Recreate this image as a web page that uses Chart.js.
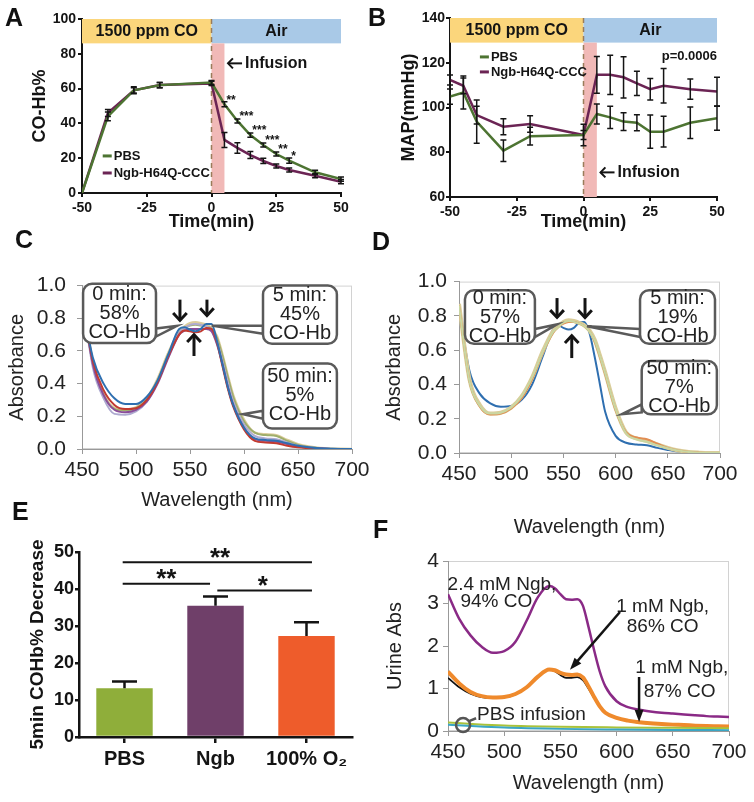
<!DOCTYPE html>
<html>
<head>
<meta charset="utf-8">
<title>CO-Hb figure</title>
<script src="https://cdn.jsdelivr.net/npm/chart.js@4.4.1/dist/chart.umd.min.js"></script>
<style>
  body { margin: 0; background: #fff; }
  #fig { position: relative; width: 754px; height: 802px; overflow: hidden; }
  #fig canvas { position: absolute; }
  .tag { position: absolute; font: bold 25px "Liberation Sans", Arial, sans-serif; line-height: 25px; color: #111; }
</style>
</head>
<body>
<div id="fig">
  <canvas id="chartA" width="377" height="262" style="left:0;top:0"></canvas>
  <canvas id="chartB" width="377" height="262" style="left:377px;top:0"></canvas>
  <canvas id="chartC" width="377" height="268" style="left:0;top:262px"></canvas>
  <canvas id="chartD" width="377" height="280" style="left:377px;top:262px"></canvas>
  <canvas id="chartE" width="377" height="272" style="left:0;top:530px"></canvas>
  <canvas id="chartF" width="377" height="272" style="left:377px;top:530px"></canvas>
  <div class="tag" style="left:5px;top:5px">A</div>
  <div class="tag" style="left:368px;top:5px">B</div>
  <div class="tag" style="left:15px;top:227px">C</div>
  <div class="tag" style="left:372px;top:229px">D</div>
  <div class="tag" style="left:12px;top:499px">E</div>
  <div class="tag" style="left:373px;top:517px">F</div>
</div>
<script>
// ---------- data ----------
// A: CO-Hb% over time
const timeA = [-50, -40, -30, -20, 0, 5, 10, 15, 20, 25, 30, 40, 50];
const pbsA = [0, 44, 59, 62, 63.5, 51, 41.4, 33.3, 27.6, 22.4, 18.6, 11.9, 8];
const pbsErrA = [0, 2.5, 2, 1.5, 1.2, 1.5, 1.2, 1.2, 1.2, 1.2, 1.5, 1.2, 1.2];
const ngbA = [0, 46, 59, 62, 63, 30.5, 25.9, 21.8, 18.4, 15.5, 13.2, 9.9, 6.5];
const ngbErrA = [0, 2, 1.5, 1.5, 1.2, 4.3, 3, 2, 1.5, 1.2, 1.2, 1.2, 1.2];
const starTimeA = [5, 10, 15, 20, 25, 30];
const starTextA = ['**', '***', '***', '***', '**', '*'];

// B: MAP over time
const timeB = [-50, -45, -40, -30, -20, 0, 5, 10, 15, 20, 25, 30, 40, 50];
const pbsB = [104.9, 106.7, 93.7, 80.7, 87.2, 87.7, 97.1, 95.6, 93.7, 93.2, 89.2, 89.2, 93.2, 95.2];
const pbsErrB = [3.4, 7.4, 9.7, 4.8, 4, 4.8, 4.5, 5, 4, 3.6, 7.4, 6.9, 7, 5.4];
const ngbB = [112.3, 109.7, 96.6, 91.4, 92.6, 87.7, 114.6, 114.6, 113.5, 110.8, 108.2, 109.7, 108.2, 107.1];
const ngbErrB = [2.2, 3.5, 4, 3.6, 3.7, 2, 8.2, 8.8, 9.2, 5.4, 4.8, 7.7, 4.5, 6.4];

// C, D, F: spectra
const wl = [450, 460, 470, 480, 490, 500, 510, 520, 530, 540, 545, 550, 555, 560, 565, 570, 575, 580, 585, 590, 600, 610, 620, 630, 640, 650, 660, 670, 680, 690, 700];
const blueC = [0.90, 0.56, 0.40, 0.31, 0.275, 0.275, 0.32, 0.42, 0.58, 0.735, 0.745, 0.73, 0.72, 0.735, 0.765, 0.765, 0.66, 0.52, 0.38, 0.27, 0.13, 0.065, 0.055, 0.05, 0.035, 0.02, 0.01, 0.004, 0.001, 0, 0];
const redC = [0.92, 0.54, 0.36, 0.27, 0.245, 0.25, 0.30, 0.41, 0.57, 0.70, 0.725, 0.72, 0.715, 0.72, 0.74, 0.735, 0.65, 0.51, 0.37, 0.26, 0.12, 0.05, 0.04, 0.035, 0.02, 0.01, 0.005, 0.002, 0, 0, 0];
const purpleC = [0.93, 0.52, 0.33, 0.24, 0.225, 0.24, 0.29, 0.40, 0.56, 0.70, 0.725, 0.735, 0.735, 0.735, 0.735, 0.72, 0.64, 0.52, 0.38, 0.27, 0.13, 0.06, 0.05, 0.045, 0.03, 0.015, 0.008, 0.003, 0, 0, 0];
const lavenderC = [0.94, 0.50, 0.31, 0.215, 0.21, 0.23, 0.29, 0.41, 0.57, 0.71, 0.74, 0.76, 0.765, 0.76, 0.75, 0.73, 0.66, 0.54, 0.41, 0.29, 0.15, 0.08, 0.065, 0.06, 0.04, 0.02, 0.01, 0.004, 0.001, 0, 0];
const oliveC = [0.95, 0.52, 0.33, 0.245, 0.235, 0.25, 0.30, 0.42, 0.58, 0.71, 0.74, 0.755, 0.76, 0.755, 0.75, 0.735, 0.68, 0.57, 0.44, 0.32, 0.17, 0.10, 0.085, 0.08, 0.05, 0.025, 0.012, 0.005, 0.002, 0, 0];
const tanC = [0.96, 0.53, 0.34, 0.25, 0.24, 0.255, 0.31, 0.43, 0.59, 0.72, 0.75, 0.77, 0.775, 0.77, 0.76, 0.74, 0.69, 0.58, 0.45, 0.33, 0.18, 0.10, 0.09, 0.085, 0.055, 0.03, 0.015, 0.006, 0.002, 0.001, 0];

const blueD = [0.85, 0.48, 0.345, 0.29, 0.27, 0.275, 0.31, 0.40, 0.56, 0.72, 0.745, 0.73, 0.72, 0.73, 0.76, 0.765, 0.70, 0.56, 0.40, 0.24, 0.10, 0.06, 0.05, 0.045, 0.03, 0.018, 0.008, 0.003, 0.001, 0, 0];
const orangeD = [0.86, 0.42, 0.27, 0.225, 0.23, 0.26, 0.32, 0.43, 0.58, 0.70, 0.735, 0.755, 0.765, 0.765, 0.755, 0.74, 0.71, 0.65, 0.56, 0.46, 0.25, 0.12, 0.09, 0.08, 0.055, 0.03, 0.015, 0.006, 0.002, 0, 0];
const tanD = [0.87, 0.43, 0.28, 0.23, 0.235, 0.265, 0.33, 0.44, 0.59, 0.71, 0.74, 0.765, 0.775, 0.77, 0.76, 0.745, 0.715, 0.66, 0.57, 0.47, 0.26, 0.12, 0.085, 0.07, 0.05, 0.03, 0.015, 0.006, 0.002, 0, 0];
const greenD = [0.86, 0.42, 0.275, 0.23, 0.235, 0.265, 0.33, 0.44, 0.585, 0.705, 0.735, 0.76, 0.77, 0.765, 0.755, 0.74, 0.71, 0.655, 0.565, 0.465, 0.255, 0.115, 0.08, 0.065, 0.045, 0.028, 0.014, 0.006, 0.002, 0, 0];

const purpleF = [3.22, 2.64, 2.25, 1.98, 1.84, 1.88, 2.1, 2.6, 3.15, 3.41, 3.36, 3.22, 3.1, 3.09, 3.1, 2.95, 2.45, 1.9, 1.4, 1.05, 0.7, 0.56, 0.5, 0.46, 0.43, 0.41, 0.39, 0.37, 0.35, 0.34, 0.33];
const orangeF = [1.4, 1.12, 0.92, 0.82, 0.79, 0.8, 0.87, 1.03, 1.28, 1.45, 1.43, 1.37, 1.33, 1.32, 1.33, 1.26, 1.05, 0.8, 0.58, 0.43, 0.31, 0.245, 0.205, 0.18, 0.165, 0.15, 0.14, 0.125, 0.115, 0.11, 0.105];
const blackF = [1.25, 1.03, 0.88, 0.8, 0.78, 0.79, 0.86, 1.02, 1.27, 1.45, 1.41, 1.32, 1.25, 1.25, 1.27, 1.2, 1.0, 0.78, 0.57, 0.42, 0.3, 0.24, 0.2, 0.175, 0.16, 0.15, 0.135, 0.12, 0.11, 0.105, 0.1];
const wlPbs = [450, 475, 500, 550, 600, 650, 700];
const greenF = [0.2, 0.16, 0.13, 0.1, 0.085, 0.075, 0.065];
const cyanF = [0.15, 0.11, 0.08, 0.05, 0.035, 0.025, 0.02];

// E: 5 min COHb% decrease
const groupsE = ['PBS', 'Ngb', '100% O₂'];
const meanE = [13.2, 35.5, 27.3];
const errE = [1.8, 2.5, 3.7];

// ---------- style ----------
const FONT = '"Liberation Sans", Arial, Helvetica, sans-serif';
const INK = '#141414';
const GREEN = '#4d7432', PURPLE = '#6b2454';
const barColorsE = ['#8fae3a', '#6f3f69', '#ee5c2b'];

Chart.defaults.font.family = FONT;
Chart.defaults.color = INK;
Chart.defaults.animation = false;
Chart.defaults.responsive = false;
Chart.defaults.plugins.legend.display = false;
Chart.defaults.plugins.tooltip.enabled = false;

function pts(xs, ys) { return xs.map((x, i) => ({ x: x, y: ys[i] })); }

function txt(ctx, s, x, y, size, bold, align, color) {
  ctx.save();
  ctx.font = (bold ? 'bold ' : '') + size + 'px ' + FONT;
  ctx.textAlign = align || 'center';
  ctx.textBaseline = 'middle';
  ctx.fillStyle = color || INK;
  ctx.fillText(s, x, y);
  ctx.restore();
}

function arrowTo(ctx, x1, y1, x2, y2, w, head, spread, filled) {
  const a = Math.atan2(y2 - y1, x2 - x1);
  const hx1 = x2 - head * Math.cos(a - spread), hy1 = y2 - head * Math.sin(a - spread);
  const hx2 = x2 - head * Math.cos(a + spread), hy2 = y2 - head * Math.sin(a + spread);
  ctx.save();
  ctx.strokeStyle = INK; ctx.fillStyle = INK; ctx.lineWidth = w;
  ctx.beginPath();
  ctx.moveTo(x1, y1);
  ctx.lineTo(filled ? x2 - head * 0.8 * Math.cos(a) : x2, filled ? y2 - head * 0.8 * Math.sin(a) : y2);
  ctx.stroke();
  ctx.beginPath();
  ctx.moveTo(hx1, hy1); ctx.lineTo(x2, y2); ctx.lineTo(hx2, hy2);
  if (filled) { ctx.closePath(); ctx.fill(); } else { ctx.stroke(); }
  ctx.restore();
}

function errBars(chart, dsIndex, errs, cap, width, upOnly) {
  const ctx = chart.ctx, ys = chart.scales.y;
  const meta = chart.getDatasetMeta(dsIndex);
  const vals = chart.data.datasets[dsIndex].data;
  ctx.save();
  ctx.strokeStyle = INK; ctx.lineWidth = width;
  meta.data.forEach((el, i) => {
    const v = typeof vals[i] === 'object' ? vals[i].y : vals[i];
    const e = errs[i];
    if (!e) return;
    const top = ys.getPixelForValue(v + e);
    const bot = upOnly ? ys.getPixelForValue(v) : ys.getPixelForValue(v - e);
    ctx.beginPath();
    ctx.moveTo(el.x, top); ctx.lineTo(el.x, bot);
    ctx.moveTo(el.x - cap, top); ctx.lineTo(el.x + cap, top);
    if (!upOnly) { ctx.moveTo(el.x - cap, bot); ctx.lineTo(el.x + cap, bot); }
    ctx.stroke();
  });
  ctx.restore();
}

function callout(chart, box, tail, lines) {
  const ctx = chart.ctx;
  const X = v => chart.scales.x.getPixelForValue(v), Y = v => chart.scales.y.getPixelForValue(v);
  const l = X(box[0]), r = X(box[2]), t = Y(box[1]), b = Y(box[3]);
  const bx = X(tail[0]), by = Y(tail[1]), tx = X(tail[2]), ty = Y(tail[3]);
  ctx.save();
  ctx.lineWidth = 2.5; ctx.strokeStyle = '#5a5a5a'; ctx.fillStyle = '#fff';
  ctx.beginPath();
  ctx.moveTo(bx, by - 4); ctx.lineTo(tx, ty); ctx.lineTo(bx, by + 4); ctx.closePath();
  ctx.fill(); ctx.stroke();
  ctx.beginPath();
  ctx.roundRect(l, t, r - l, b - t, 9);
  ctx.fill(); ctx.stroke();
  const cx = (l + r) / 2, cy = (t + b) / 2, lh = 19;
  lines.forEach((s, i) => txt(ctx, s, cx, cy + (i - (lines.length - 1) / 2) * lh, 20, false, 'center', '#222'));
  ctx.restore();
}

// shared axis options
function boldAxis(min, max, step, title, fit, tickPad) {
  return {
    type: 'linear', min: min, max: max,
    ticks: { stepSize: step, font: { size: 14, weight: 'bold' }, padding: tickPad, color: INK },
    grid: { drawOnChartArea: false, tickLength: 4, color: INK, lineWidth: 2 },
    border: { color: INK, width: 2 },
    title: { display: true, text: title, font: { size: 18, weight: 'bold' }, padding: 0, color: INK },
    afterFit: fit
  };
}
function specAxis(min, max, step, title, fit, tickPad, decimals) {
  return {
    type: 'linear', min: min, max: max,
    ticks: { stepSize: step, font: { size: 21 }, padding: tickPad, color: '#222',
      callback: v => decimals ? v.toFixed(1) : v },
    grid: { drawOnChartArea: false, tickLength: 5, color: '#999', lineWidth: 1 },
    border: { color: '#999', width: 1 },
    title: { display: true, text: title, font: { size: 20 }, padding: 0, color: '#222' },
    afterFit: fit
  };
}
function spec(xs, ys, color, w) {
  return { data: pts(xs, ys), borderColor: color, borderWidth: w, pointRadius: 0, cubicInterpolationMode: 'monotone' };
}
const frame = {
  id: 'frame',
  beforeDraw(chart) {
    const a = chart.chartArea, c = chart.ctx;
    c.save(); c.strokeStyle = '#d2d2d2'; c.lineWidth = 1;
    c.strokeRect(a.left + 0.5, a.top + 0.5, a.width - 1, a.height - 1);
    c.restore();
  }
};

// time course phases (bands)
function phases(chart, top, bandLow, bottom, textY) {
  const ctx = chart.ctx;
  const X = v => chart.scales.x.getPixelForValue(v), Y = v => chart.scales.y.getPixelForValue(v);
  ctx.save();
  ctx.fillStyle = '#fbd67c'; ctx.fillRect(X(-50), Y(top), X(0) - X(-50), Y(bandLow) - Y(top));
  ctx.fillStyle = '#a9c9e7'; ctx.fillRect(X(0), Y(top), X(50) - X(0), Y(bandLow) - Y(top));
  ctx.fillStyle = '#f1b9b7'; ctx.fillRect(X(0), Y(bandLow), X(5) - X(0), Y(bottom) - Y(bandLow));
  ctx.strokeStyle = '#9a7c5a'; ctx.lineWidth = 1.5; ctx.setLineDash([5, 4]);
  ctx.beginPath(); ctx.moveTo(X(0), Y(top)); ctx.lineTo(X(0), Y(bottom)); ctx.stroke();
  ctx.restore();
  txt(ctx, '1500 ppm CO', X(-25), Y(textY), 16, true);
  txt(ctx, 'Air', X(25), Y(textY), 16, true);
}
// "<- Infusion" label: drawn arrow, then text
function infusion(chart, x, y) {
  const ctx = chart.ctx;
  const px = chart.scales.x.getPixelForValue(x), py = chart.scales.y.getPixelForValue(y);
  arrowTo(ctx, px + 15, py, px + 1, py, 2, 7, 0.8, false);
  txt(ctx, 'Infusion', px + 18, py, 16, true, 'left');
}
function legendAB(chart, x, y1, y2) {
  const ctx = chart.ctx;
  const X = v => chart.scales.x.getPixelForValue(v), Y = v => chart.scales.y.getPixelForValue(v);
  [[y1, GREEN, 'PBS'], [y2, PURPLE, 'Ngb-H64Q-CCC']].forEach(([yy, col, s]) => {
    ctx.save(); ctx.strokeStyle = col; ctx.lineWidth = 3;
    ctx.beginPath(); ctx.moveTo(X(x), Y(yy)); ctx.lineTo(X(x) + 9, Y(yy)); ctx.stroke(); ctx.restore();
    txt(ctx, s, X(x) + 11, Y(yy), 13, true, 'left');
  });
}

// ---------- A ----------
new Chart(document.getElementById('chartA'), {
  type: 'line',
  data: { datasets: [
    { data: pts(timeA, pbsA), borderColor: GREEN, borderWidth: 2.5, pointRadius: 0 },
    { data: pts(timeA, ngbA), borderColor: PURPLE, borderWidth: 2.5, pointRadius: 0 }
  ] },
  options: {
    layout: { padding: { left: 29, top: 19, right: 36, bottom: 29 } },
    scales: {
      x: boldAxis(-50, 50, 25, 'Time(min)', s => { s.height = 40; }, 3),
      y: boldAxis(0, 100, 20, 'CO-Hb%', s => { s.width = 53; }, 2)
    }
  },
  plugins: [{
    id: 'panelA',
    beforeDatasetsDraw(chart) { phases(chart, 100, 86, 0, 93); },
    afterDatasetsDraw(chart) {
      const ctx = chart.ctx;
      const X = v => chart.scales.x.getPixelForValue(v), Y = v => chart.scales.y.getPixelForValue(v);
      errBars(chart, 0, pbsErrA, 3, 1.5);
      errBars(chart, 1, ngbErrA, 3, 1.5);
      starTimeA.forEach((t, i) => {
        const v = pbsA[timeA.indexOf(t)];
        txt(ctx, starTextA[i], X(t) + 2, Y(v) - 4, 12, true, 'left');
      });
      infusion(chart, 6, 74.5);
      legendAB(chart, -42, 21.3, 11.5);
    }
  }]
});

// ---------- B ----------
new Chart(document.getElementById('chartB'), {
  type: 'line',
  data: { datasets: [
    { data: pts(timeB, pbsB), borderColor: GREEN, borderWidth: 2.5, pointRadius: 0 },
    { data: pts(timeB, ngbB), borderColor: PURPLE, borderWidth: 2.5, pointRadius: 0 }
  ] },
  options: {
    layout: { padding: { left: 21, top: 18, right: 37, bottom: 29 } },
    scales: {
      x: boldAxis(-50, 50, 25, 'Time(min)', s => { s.height = 36; }, 3),
      y: boldAxis(60, 140, 20, 'MAP(mmHg)', s => { s.width = 52; }, 1)
    }
  },
  plugins: [{
    id: 'panelB',
    beforeDatasetsDraw(chart) { phases(chart, 140, 129, 60, 134.5); },
    afterDatasetsDraw(chart) {
      const ctx = chart.ctx;
      const X = v => chart.scales.x.getPixelForValue(v), Y = v => chart.scales.y.getPixelForValue(v);
      errBars(chart, 0, pbsErrB, 3, 1.5);
      errBars(chart, 1, ngbErrB, 3, 1.5);
      infusion(chart, 6, 71);
      txt(ctx, 'p=0.0006', X(50), Y(122.8), 13, true, 'right');
      legendAB(chart, -38.8, 122.6, 115.9);
    }
  }]
});

// ---------- C ----------
new Chart(document.getElementById('chartC'), {
  type: 'line',
  data: { datasets: [
    spec(wl, blueC, '#2f6fb0', 2),
    spec(wl, redC, '#c23a30', 2),
    spec(wl, purpleC, '#8a4d9a', 2),
    spec(wl, lavenderC, '#aeaad0', 2),
    spec(wl, oliveC, '#9fae6c', 2),
    spec(wl, tanC, '#dccd9c', 2.5)
  ] },
  options: {
    layout: { padding: { left: 5, top: 13, right: 25, bottom: 18 } },
    scales: {
      x: specAxis(450, 700, 50, 'Wavelength (nm)', s => { s.height = 63; }, 4, false),
      y: specAxis(0, 1, 0.2, 'Absorbance', s => { s.width = 77; }, 11, true)
    }
  },
  plugins: [frame, {
    id: 'panelC',
    afterDatasetsDraw(chart) {
      const ctx = chart.ctx;
      const X = v => chart.scales.x.getPixelForValue(v), Y = v => chart.scales.y.getPixelForValue(v);
      callout(chart, [451, 1.011, 518.5, 0.649], [518.5, 0.713, 538, 0.753], ['0 min:', '58%', 'CO-Hb']);
      callout(chart, [617.6, 1.0, 686, 0.644], [617.6, 0.73, 570, 0.755], ['5 min:', '45%', 'CO-Hb']);
      callout(chart, [617.6, 0.523, 686, 0.126], [617.6, 0.21, 599, 0.213], ['50 min:', '5%', 'CO-Hb']);
      arrowTo(ctx, X(540.7), Y(0.914), X(540.7), Y(0.787), 3, 10, 0.75, false);
      arrowTo(ctx, X(565.7), Y(0.914), X(565.7), Y(0.816), 3, 10, 0.75, false);
      arrowTo(ctx, X(553.7), Y(0.569), X(553.7), Y(0.70), 3, 10, 0.75, false);
    }
  }]
});

// ---------- D ----------
new Chart(document.getElementById('chartD'), {
  type: 'line',
  data: { datasets: [
    spec(wl, greenD, '#c9d7a2', 2),
    spec(wl, orangeD, '#e28d52', 2),
    spec(wl, tanD, '#dacd9a', 4),
    spec(wl, blueD, '#2f6fb0', 2)
  ] },
  options: {
    layout: { padding: { left: 5, top: 14, right: 34, bottom: 3 } },
    scales: {
      x: specAxis(450, 700, 50, 'Wavelength (nm)', s => { s.height = 86; }, 4, false),
      y: specAxis(0, 1, 0.2, 'Absorbance', s => { s.width = 77; }, 7, true)
    }
  },
  plugins: [frame, {
    id: 'panelD',
    afterDatasetsDraw(chart) {
      const ctx = chart.ctx;
      const X = v => chart.scales.x.getPixelForValue(v), Y = v => chart.scales.y.getPixelForValue(v);
      callout(chart, [455.7, 0.949, 522.7, 0.638], [522.7, 0.70, 543.9, 0.75], ['0 min:', '57%', 'CO-Hb']);
      callout(chart, [623.4, 0.949, 695.2, 0.638], [623.4, 0.70, 572.6, 0.74], ['5 min:', '19%', 'CO-Hb']);
      callout(chart, [625, 0.537, 697, 0.226], [625, 0.26, 606, 0.226], ['50 min:', '7%', 'CO-Hb']);
      arrowTo(ctx, X(543.9), Y(0.904), X(543.9), Y(0.791), 3, 10, 0.75, false);
      arrowTo(ctx, X(570.7), Y(0.904), X(570.7), Y(0.79), 3, 10, 0.75, false);
      arrowTo(ctx, X(558), Y(0.554), X(558), Y(0.684), 3, 10, 0.75, false);
    }
  }]
});

// ---------- E ----------
new Chart(document.getElementById('chartE'), {
  type: 'bar',
  data: { labels: groupsE, datasets: [{ data: meanE, backgroundColor: barColorsE, barPercentage: 0.62, categoryPercentage: 1 }] },
  options: {
    layout: { padding: { left: 26, top: 22, right: 25, bottom: 25 } },
    scales: {
      x: {
        ticks: { font: { size: 20, weight: 'bold' }, padding: 4, color: INK },
        grid: { offset: false, drawOnChartArea: false, tickLength: 6, color: INK, lineWidth: 2.5 },
        border: { color: INK, width: 2.5 },
        afterFit: s => { s.height = 40; }
      },
      y: {
        min: 0, max: 50,
        ticks: { stepSize: 10, font: { size: 18, weight: 'bold' }, padding: 1, color: INK },
        grid: { drawOnChartArea: false, tickLength: 4, color: INK, lineWidth: 2.5 },
        border: { color: INK, width: 2.5 },
        title: { display: true, text: '5min COHb% Decrease', font: { size: 19, weight: 'bold' }, padding: 0, color: INK },
        afterFit: s => { s.width = 53; }
      }
    }
  },
  plugins: [{
    id: 'panelE',
    afterDatasetsDraw(chart) {
      const ctx = chart.ctx;
      const X = v => chart.scales.x.getPixelForValue(v), Y = v => chart.scales.y.getPixelForValue(v);
      errBars(chart, 0, errE, 12.5, 2.5, true);
      ctx.save(); ctx.strokeStyle = INK; ctx.lineWidth = 2;
      ctx.beginPath();
      ctx.moveTo(X(-0.02), Y(47.2)); ctx.lineTo(X(2.06), Y(47.2));
      ctx.moveTo(X(-0.02), Y(41.4)); ctx.lineTo(X(0.94), Y(41.4));
      ctx.moveTo(X(1.02), Y(39.6)); ctx.lineTo(X(2.06), Y(39.6));
      ctx.stroke(); ctx.restore();
      txt(ctx, '**', X(1.05), Y(48.2), 26, true);
      txt(ctx, '**', X(0.46), Y(42.4), 26, true);
      txt(ctx, '*', X(1.52), Y(40.6), 26, true);
    }
  }]
});

// ---------- F ----------
new Chart(document.getElementById('chartF'), {
  type: 'line',
  data: { datasets: [
    spec(wlPbs, cyanF, '#3aa6c4', 2),
    spec(wlPbs, greenF, '#a9c23a', 2),
    spec(wl, orangeF, '#ef8a2c', 4),
    spec(wl, blackF, '#111111', 1.8),
    spec(wl, purpleF, '#8a2a86', 2.5)
  ] },
  options: {
    layout: { padding: { left: 6, top: 31, right: 25, bottom: 7 } },
    scales: {
      x: specAxis(450, 700, 50, 'Wavelength (nm)', s => { s.height = 64; }, 4, false),
      y: specAxis(0, 4, 1, 'Urine Abs', s => { s.width = 65; }, 4, false)
    }
  },
  plugins: [frame, {
    id: 'panelF',
    afterDatasetsDraw(chart) {
      const ctx = chart.ctx;
      const X = v => chart.scales.x.getPixelForValue(v), Y = v => chart.scales.y.getPixelForValue(v);
      txt(ctx, '2.4 mM Ngb,', X(498), Y(3.44), 19, false, 'center', '#222');
      txt(ctx, '94% CO', X(493), Y(3.04), 19, false, 'center', '#222');
      txt(ctx, '1 mM Ngb,', X(641), Y(2.92), 19, false, 'center', '#222');
      txt(ctx, '86% CO', X(641), Y(2.45), 19, false, 'center', '#222');
      txt(ctx, '1 mM Ngb,', X(658), Y(1.48), 19, false, 'center', '#222');
      txt(ctx, '87% CO', X(656), Y(0.92), 19, false, 'center', '#222');
      txt(ctx, 'PBS infusion', X(475.8), Y(0.38), 19, false, 'left', '#222');
      arrowTo(ctx, X(603), Y(2.8), X(558.5), Y(1.44), 2.5, 13, 0.35, true);
      arrowTo(ctx, X(620), Y(1.27), X(620), Y(0.21), 2.5, 13, 0.35, true);
      ctx.save(); ctx.strokeStyle = '#555'; ctx.lineWidth = 2.5;
      ctx.beginPath(); ctx.arc(X(463.4), Y(0.14), 7, 0, Math.PI * 2); ctx.stroke();
      ctx.beginPath(); ctx.moveTo(X(463.4) + 6, Y(0.14) - 4); ctx.lineTo(X(475), Y(0.3)); ctx.stroke();
      ctx.restore();
    }
  }]
});
</script>
</body>
</html>
